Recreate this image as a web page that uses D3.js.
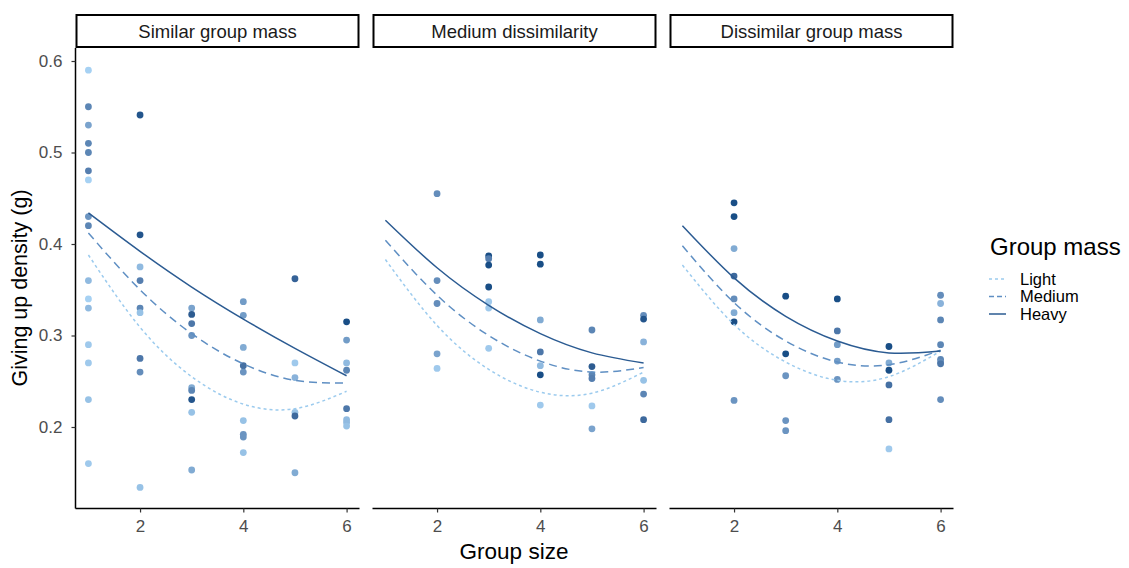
<!DOCTYPE html>
<html><head><meta charset="utf-8">
<script src="https://cdn.jsdelivr.net/npm/d3@7"></script>
<style>
html,body{margin:0;padding:0;background:#fff;}
svg{display:block;font-family:"Liberation Sans",Arial,sans-serif;}
</style></head>
<body><svg id="c" width="1129" height="568"></svg>
<script>
// ---- data ----
const panels = ["Similar group mass", "Medium dissimilarity", "Dissimilar group mass"];
const massLevels = ["Light", "Medium", "Heavy"];
const xTicks = [2, 4, 6];
const yTicks = [0.2, 0.3, 0.4, 0.5, 0.6];

// observations: group size, giving-up density (g), relative group mass (0 = light ... 1 = heavy)
const simSize = [1,1,1,1,1,1,1,1,1,1,1,1,1,1,1,1, 2,2,2,2,2,2,2,2,2, 3,3,3,3,3,3,3,3,3, 4,4,4,4,4,4,4,4,4, 5,5,5,5,5,5, 6,6,6,6,6,6,6,6];
const simGud  = [0.590,0.550,0.530,0.510,0.500,0.480,0.470,0.430,0.420,0.360,0.340,0.330,0.290,0.270,0.230,0.160,
                 0.541,0.410,0.375,0.360,0.330,0.325,0.275,0.260,0.134,
                 0.330,0.323,0.313,0.300,0.243,0.240,0.230,0.216,0.153,
                 0.337,0.322,0.287,0.267,0.260,0.207,0.192,0.189,0.172,
                 0.362,0.270,0.254,0.216,0.212,0.150,
                 0.315,0.295,0.270,0.262,0.220,0.208,0.205,0.201];
const simMass = [0.05,0.55,0.35,0.55,0.55,0.6,0.05,0.45,0.55,0.2,0.05,0.2,0.1,0.1,0.15,0.1,
                 0.9,0.9,0.2,0.6,0.55,0.15,0.65,0.5,0.15,
                 0.35,0.85,0.65,0.45,0.3,0.55,0.9,0.15,0.3,
                 0.4,0.4,0.3,0.7,0.45,0.15,0.45,0.45,0.15,
                 0.8,0.1,0.25,0.15,0.75,0.3,
                 0.95,0.4,0.2,0.55,0.65,0.2,0.2,0.15];

const medSize = [2,2,2,2,2, 3,3,3,3,3,3,3, 4,4,4,4,4,4,4, 5,5,5,5,5,5, 6,6,6,6,6,6];
const medGud  = [0.455,0.360,0.335,0.280,0.264,
                 0.387,0.384,0.377,0.353,0.337,0.330,0.286,
                 0.388,0.378,0.317,0.282,0.267,0.257,0.224,
                 0.306,0.266,0.257,0.253,0.223,0.198,
                 0.322,0.318,0.293,0.251,0.236,0.208];
const medMass = [0.5,0.5,0.5,0.35,0.1,
                 0.95,0.6,0.95,0.95,0.1,0.1,0.1,
                 0.95,0.95,0.3,0.65,0.2,0.95,0.1,
                 0.55,0.85,0.55,0.6,0.1,0.35,
                 0.5,0.9,0.25,0.15,0.55,0.75];

const disSize = [2,2,2,2,2,2,2,2, 3,3,3,3,3, 4,4,4,4,4, 5,5,5,5,5,5, 6,6,6,6,6,6,6,6];
const disGud  = [0.445,0.430,0.395,0.365,0.340,0.325,0.315,0.229,
                 0.343,0.280,0.256,0.207,0.196,
                 0.340,0.305,0.290,0.272,0.252,
                 0.288,0.270,0.262,0.246,0.208,0.176,
                 0.344,0.335,0.317,0.290,0.274,0.271,0.269,0.230];
const disMass = [0.95,0.95,0.3,0.75,0.5,0.3,0.95,0.45,
                 0.95,0.95,0.45,0.45,0.45,
                 0.95,0.65,0.4,0.4,0.45,
                 0.95,0.3,0.95,0.7,0.7,0.1,
                 0.5,0.25,0.55,0.55,0.55,0.5,0.65,0.5];

// fitted curves (values read at group sizes 1..6)
const fitX = [1,2,3,4,5,6];
const simFit = {Light:[0.388,0.309,0.255,0.225,0.220,0.239], Medium:[0.412,0.350,0.302,0.269,0.251,0.248], Heavy:[0.434,0.392,0.353,0.318,0.286,0.256]};
const medFit = {Light:[0.383,0.311,0.263,0.238,0.237,0.260], Medium:[0.404,0.344,0.300,0.272,0.260,0.265], Heavy:[0.426,0.374,0.333,0.302,0.281,0.270]};
const disFit = {Light:[0.377,0.312,0.271,0.251,0.255,0.283], Medium:[0.398,0.336,0.294,0.271,0.268,0.284], Heavy:[0.420,0.363,0.321,0.294,0.281,0.283]};

const panelData = [
  {size:simSize, gud:simGud, mass:simMass, fit:simFit},
  {size:medSize, gud:medGud, mass:medMass, fit:medFit},
  {size:disSize, gud:disGud, mass:disMass, fit:disFit}
];

// ---- styles ----
const lineColor = {Light:"#9ccbee", Medium:"#5f8fc3", Heavy:"#2b5b92"};
const lineDash = {Light:"3,3", Medium:"8,5", Heavy:null};
const ptColor = d3.scaleLinear().domain([0,1]).range(["#aed9f9","#0a4880"]).interpolate(d3.interpolateLab);

const svg = d3.select("#c");
const W0 = 75.5, PW = 284, GAP = 13, TOP = 48, BOT = 508.5;
const y = d3.scaleLinear().domain([0.6, 0.2]).range([61, 427]);

panels.forEach((name, i) => {
  const left = W0 + i*(PW+GAP);
  const x = d3.scaleLinear().domain([0.75, 6.25]).range([left, left+PW]);
  const g = svg.append("g");
  const pd = panelData[i];

  // strip
  g.append("rect").attr("x", left+1).attr("y", 15).attr("width", PW-2).attr("height", 32)
    .attr("fill","#fff").attr("stroke","#000").attr("stroke-width",2);
  g.append("text").attr("x", left+PW/2).attr("y", 37.5).attr("text-anchor","middle")
    .attr("font-size",18.5).attr("fill","#1a1a1a").text(name);

  // points
  g.selectAll("circle").data(pd.size.map((s,k)=>({s, v:pd.gud[k], m:pd.mass[k]})))
    .enter().append("circle")
    .attr("cx", d=>x(d.s)).attr("cy", d=>y(d.v)).attr("r",3.4)
    .attr("fill", d=>ptColor(d.m));

  // fitted curves
  const line = d3.line().x((d,k)=>x(fitX[k])).y(d=>y(d)).curve(d3.curveNatural);
  massLevels.forEach(m => {
    g.append("path").attr("d", line(pd.fit[m])).attr("fill","none")
      .attr("stroke", lineColor[m]).attr("stroke-width",1.5)
      .attr("stroke-dasharray", lineDash[m]);
  });

  // x axis
  const xa = g.append("g").attr("transform",`translate(0,${BOT})`)
    .call(d3.axisBottom(x).tickValues(xTicks).tickSize(4).tickPadding(7).tickFormat(d3.format("d")));
  xa.select(".domain").attr("stroke","#000").attr("stroke-width",1.5).attr("d",`M${left},0H${left+PW}`);
  xa.selectAll(".tick line").attr("stroke","#333").attr("stroke-width",1.2);
  xa.selectAll(".tick text").attr("font-size",17).attr("fill","#4d4d4d").attr("font-family","Liberation Sans, Arial, sans-serif");

  if (i === 0) {
    const ya = g.append("g").attr("transform",`translate(${left},0)`)
      .call(d3.axisLeft(y).tickValues(yTicks).tickSize(4).tickPadding(9).tickFormat(d3.format(".1f")));
    ya.select(".domain").attr("stroke","#000").attr("stroke-width",1.5).attr("d",`M0,${TOP}V${BOT}`);
    ya.selectAll(".tick line").attr("stroke","#333").attr("stroke-width",1.2);
    ya.selectAll(".tick text").attr("font-size",17).attr("fill","#4d4d4d").attr("font-family","Liberation Sans, Arial, sans-serif");
  }
});

// axis titles
svg.append("text").attr("x", 514).attr("y", 559).attr("text-anchor","middle")
  .attr("font-size",22.5).attr("fill","#000").text("Group size");
svg.append("text").attr("transform","translate(27,288) rotate(-90)").attr("text-anchor","middle")
  .attr("font-size",21.5).attr("fill","#000").text("Giving up density (g)");

// legend
const lg = svg.append("g");
lg.append("text").attr("x",990).attr("y",255).attr("font-size",24).attr("fill","#000").text("Group mass");
massLevels.forEach((m,k) => {
  const cy = 279 + k*17.5;
  lg.append("line").attr("x1",989).attr("x2",1006).attr("y1",cy).attr("y2",cy)
    .attr("stroke", lineColor[m]).attr("stroke-width",1.5).attr("stroke-dasharray", lineDash[m] ? (m==="Light"?"3,3":"5,3") : null);
  lg.append("text").attr("x",1020).attr("y",cy+5.5).attr("font-size",16.5).attr("fill","#000").text(m);
});
</script></body></html>
